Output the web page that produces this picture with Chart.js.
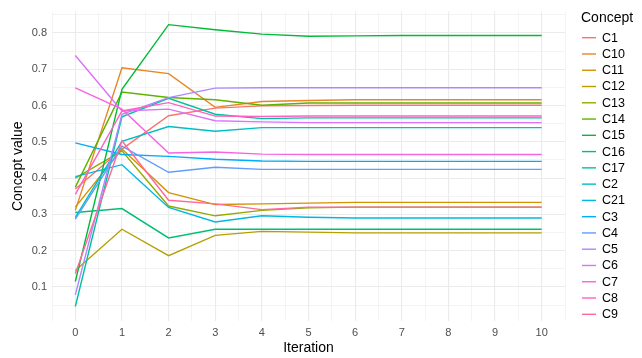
<!DOCTYPE html>
<html>
<head>
<meta charset="utf-8">
<script src="https://cdn.jsdelivr.net/npm/chart.js@4.4.1/dist/chart.umd.min.js"></script>
<style>
  html, body { margin: 0; padding: 0; background: #ffffff; }
  #wrap { width: 642px; height: 358px; position: relative; }
</style>
</head>
<body>
<div id="wrap"><canvas id="chart" width="642" height="358"></canvas></div>
<script>
// Iterations of the fuzzy cognitive map simulation
const iterations = [0, 1, 2, 3, 4, 5, 6, 7, 8, 9, 10];

// Concept names in legend order
const concepts = ["C1", "C10", "C11", "C12", "C13", "C14", "C15", "C16", "C17",
                  "C2", "C21", "C3", "C4", "C5", "C6", "C7", "C8", "C9"];

// Concept activation values per iteration
const C1  = [0.370, 0.480, 0.572, 0.593, 0.599, 0.600, 0.601, 0.601, 0.601, 0.601, 0.601];
const C10 = [0.311, 0.704, 0.688, 0.595, 0.611, 0.614, 0.616, 0.616, 0.616, 0.616, 0.616];
const C11 = [0.320, 0.480, 0.360, 0.327, 0.329, 0.331, 0.333, 0.333, 0.333, 0.333, 0.333];
const C12 = [0.145, 0.259, 0.186, 0.242, 0.253, 0.251, 0.249, 0.249, 0.249, 0.249, 0.249];
const C13 = [0.400, 0.475, 0.323, 0.296, 0.311, 0.318, 0.320, 0.320, 0.320, 0.320, 0.320];
const C14 = [0.375, 0.637, 0.622, 0.616, 0.601, 0.607, 0.607, 0.607, 0.607, 0.607, 0.607];
const C15 = [0.115, 0.645, 0.823, 0.809, 0.797, 0.791, 0.792, 0.793, 0.793, 0.793, 0.793];
const C16 = [0.305, 0.316, 0.235, 0.259, 0.259, 0.259, 0.259, 0.259, 0.259, 0.259, 0.259];
const C17 = [0.046, 0.569, 0.620, 0.576, 0.564, 0.566, 0.566, 0.566, 0.566, 0.566, 0.566];
const C2  = [0.292, 0.501, 0.542, 0.529, 0.539, 0.539, 0.539, 0.539, 0.539, 0.539, 0.539];
const C21 = [0.404, 0.437, 0.319, 0.279, 0.296, 0.292, 0.290, 0.290, 0.290, 0.290, 0.290];
const C3  = [0.497, 0.465, 0.460, 0.452, 0.447, 0.446, 0.446, 0.446, 0.446, 0.446, 0.446];
const C4  = [0.287, 0.488, 0.416, 0.430, 0.424, 0.424, 0.424, 0.424, 0.424, 0.424, 0.424];
const C5  = [0.078, 0.576, 0.622, 0.648, 0.649, 0.649, 0.649, 0.649, 0.649, 0.649, 0.649];
const C6  = [0.738, 0.585, 0.590, 0.558, 0.555, 0.553, 0.553, 0.553, 0.553, 0.553, 0.553];
const C7  = [0.649, 0.590, 0.469, 0.472, 0.466, 0.465, 0.465, 0.465, 0.465, 0.465, 0.465];
const C8  = [0.355, 0.585, 0.608, 0.571, 0.570, 0.571, 0.571, 0.571, 0.571, 0.571, 0.571];
const C9  = [0.136, 0.503, 0.339, 0.329, 0.313, 0.320, 0.320, 0.320, 0.320, 0.320, 0.320];

const seriesValues = [C1, C10, C11, C12, C13, C14, C15, C16, C17,
                      C2, C21, C3, C4, C5, C6, C7, C8, C9];

// Axis tick labels
const xTickLabels = ["0", "1", "2", "3", "4", "5", "6", "7", "8", "9", "10"];
const yTickLabels = ["0.1", "0.2", "0.3", "0.4", "0.5", "0.6", "0.7", "0.8"];

// Evenly spaced hues in polar CIE-Luv (chroma 100, luminance 65)
function hclColor(h, c, l) {
  const hr = h * Math.PI / 180;
  const U = c * Math.cos(hr), V = c * Math.sin(hr);
  const Xn = 95.047, Yn = 100.0, Zn = 108.883;
  const den = Xn + 15 * Yn + 3 * Zn;
  const un = 4 * Xn / den, vn = 9 * Yn / den;
  const Y = Yn * Math.pow((l + 16) / 116, 3);
  const u = U / (13 * l) + un, v = V / (13 * l) + vn;
  const X = 9 * Y * u / (4 * v);
  const Z = Y * (12 - 3 * u - 20 * v) / (4 * v);
  const x = X / 100, y = Y / 100, z = Z / 100;
  let r = 3.240479 * x - 1.537150 * y - 0.498535 * z;
  let g = -0.969256 * x + 1.875992 * y + 0.041556 * z;
  let b = 0.055648 * x - 0.204043 * y + 1.057311 * z;
  const gam = t => t <= 0.0031308 ? 12.92 * t : 1.055 * Math.pow(t, 1 / 2.4) - 0.055;
  const to255 = t => Math.round(Math.min(1, Math.max(0, gam(t))) * 255);
  return "rgb(" + to255(r) + "," + to255(g) + "," + to255(b) + ")";
}
const n = concepts.length;
const palette = concepts.map((_, i) => hclColor(15 + 360 * i / n, 100, 65));

const datasets = concepts.map((name, i) => ({
  label: name,
  data: iterations.map((it, k) => ({ x: it, y: seriesValues[i][k] })),
  borderColor: palette[i],
  backgroundColor: palette[i],
  borderWidth: 1.4,
  pointRadius: 0,
  tension: 0,
  fill: false,
  order: n - i
}));

const FONT = "'Liberation Sans', Arial, sans-serif";
const GRID = "#EBEBEB";

// Axis titles and legend in the right margin
const decorations = {
  id: "decorations",
  afterDraw(chart) {
    const ctx = chart.ctx;
    const area = chart.chartArea;
    ctx.save();
    ctx.fillStyle = "#000000";
    ctx.font = "14px " + FONT;
    ctx.textAlign = "center";
    ctx.textBaseline = "middle";
    ctx.fillText("Iteration", (area.left + area.right) / 2, 348);
    ctx.save();
    ctx.translate(18, (area.top + area.bottom) / 2);
    ctx.rotate(-Math.PI / 2);
    ctx.fillText("Concept value", 0, 0);
    ctx.restore();

    // legend
    ctx.textAlign = "left";
    ctx.font = "14px " + FONT;
    ctx.fillText("Concept", 581, 18);
    ctx.font = "12.5px " + FONT;
    const top = 37.7, step = 16.27;
    concepts.forEach((name, i) => {
      const y = top + i * step;
      ctx.strokeStyle = palette[i];
      ctx.lineWidth = 1.4;
      ctx.beginPath();
      ctx.moveTo(582, y);
      ctx.lineTo(596, y);
      ctx.stroke();
      ctx.fillStyle = "#000000";
      ctx.fillText(name, 602, y + 0.5);
    });
    ctx.restore();
  }
};

new Chart(document.getElementById("chart"), {
  type: "line",
  data: { datasets },
  options: {
    responsive: false,
    animation: false,
    devicePixelRatio: 1,
    layout: { padding: { left: 0, right: 77, top: 10, bottom: 0 } },
    plugins: { legend: { display: false }, tooltip: { enabled: false } },
    scales: {
      x: {
        type: "linear",
        min: -0.5,
        max: 10.5,
        afterBuildTicks(scale) {
          const t = [];
          for (let v = -0.5; v <= 10.5001; v += 0.5) t.push({ value: Math.round(v * 10) / 10 });
          scale.ticks = t;
        },
        afterFit(scale) { scale.height = 37; },
        border: { display: false },
        grid: {
          drawTicks: false,
          color: GRID,
          lineWidth: c => (Number.isInteger(c.tick.value) ? 1.1 : 0.55)
        },
        ticks: {
          autoSkip: false,
          maxRotation: 0,
          padding: 5,
          color: "#4D4D4D",
          font: { family: FONT, size: 11 },
          callback: v => (Number.isInteger(v) ? xTickLabels[v] : "")
        }
      },
      y: {
        type: "linear",
        min: 0.006,
        max: 0.859,
        afterBuildTicks(scale) {
          const t = [];
          for (let k = 1; k <= 17; k++) t.push({ value: Math.round(k * 5) / 100 });
          scale.ticks = t;
        },
        afterFit(scale) { scale.width = 52; },
        border: { display: false },
        grid: {
          drawTicks: false,
          color: GRID,
          lineWidth: c => (Math.round(c.tick.value * 100) % 10 === 0 ? 1.1 : 0.55)
        },
        ticks: {
          autoSkip: false,
          padding: 5,
          color: "#4D4D4D",
          font: { family: FONT, size: 11 },
          callback: v => {
            const k = Math.round(v * 100);
            return k % 10 === 0 ? yTickLabels[k / 10 - 1] : "";
          }
        }
      }
    }
  },
  plugins: [decorations]
});
</script>
</body>
</html>
